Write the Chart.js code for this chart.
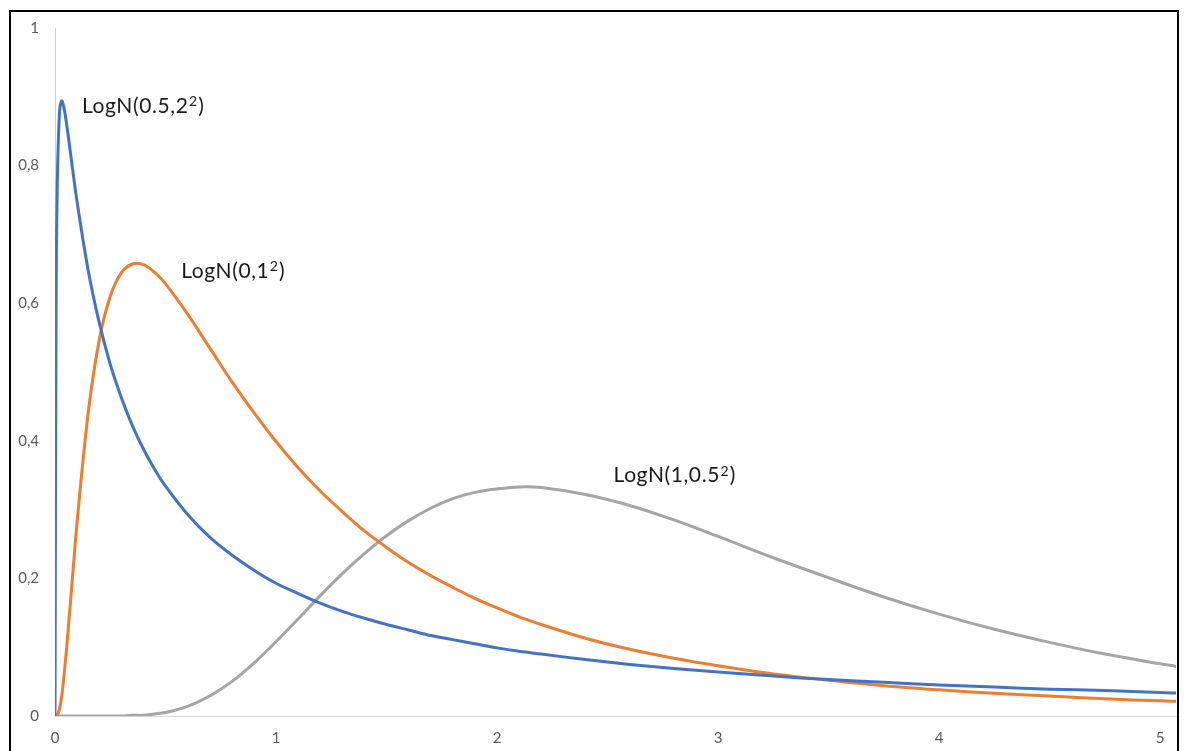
<!DOCTYPE html>
<html>
<head>
<meta charset="utf-8">
<title>Lognormal densities</title>
<script src="https://cdn.jsdelivr.net/npm/chart.js@4.4.1/dist/chart.umd.min.js"></script>
<style>
    html, body { margin: 0; padding: 0; background: #ffffff; }
    canvas { display: block; }
</style>
</head>
<body>
<canvas id="chart_lognormal" width="1184" height="751"></canvas>
<script>
const xValues = [0, 0.005, 0.01, 0.02, 0.03, 0.04, 0.05, 0.06, 0.08, 0.1,
    0.15, 0.2, 0.25, 0.3, 0.35, 0.4, 0.45, 0.5, 0.6, 0.7, 0.8,
    0.9, 1.0, 1.1, 1.2, 1.3, 1.4, 1.5, 1.6, 1.7, 1.8, 1.9, 2.0,
    2.1, 2.2, 2.4, 2.6, 2.8, 3.0, 3.25, 3.5, 3.75, 4.0,
    4.25, 4.5, 4.75, 5.0, 5.1];

// LogN(0.5,2^2)
const blueValues = [0, 0.597, 0.767, 0.875, 0.894, 0.885, 0.866, 0.843, 0.794, 0.747,
    0.648, 0.572, 0.511, 0.463, 0.422, 0.388, 0.359, 0.334, 0.293, 0.260, 0.234,
    0.212, 0.193, 0.178, 0.164, 0.152, 0.142, 0.133, 0.125, 0.117, 0.111, 0.105, 0.099,
    0.094, 0.090, 0.082, 0.075, 0.069, 0.064, 0.058, 0.053, 0.049, 0.045,
    0.042, 0.039, 0.037, 0.034, 0.033];

// LogN(0,1^2)
const orangeValues = [0, 0, 0.001, 0.010, 0.028, 0.056, 0.090, 0.127, 0.205, 0.282,
    0.440, 0.546, 0.610, 0.644, 0.657, 0.656, 0.645, 0.628, 0.584, 0.535, 0.486,
    0.441, 0.399, 0.361, 0.327, 0.297, 0.269, 0.245, 0.223, 0.204, 0.187, 0.171, 0.157,
    0.144, 0.133, 0.113, 0.097, 0.084, 0.073, 0.061, 0.052, 0.044, 0.038,
    0.033, 0.029, 0.025, 0.022, 0.021];

// LogN(1,0.5^2)
const grayValues = [0, 0, 0, 0, 0, 0, 0, 0, 0, 0,
    0, 0, 0, 0, 0.001, 0.001, 0.003, 0.005, 0.014, 0.029, 0.050,
    0.077, 0.108, 0.141, 0.175, 0.207, 0.236, 0.262, 0.284, 0.302, 0.316, 0.325, 0.330,
    0.333, 0.332, 0.322, 0.306, 0.285, 0.261, 0.230, 0.201, 0.173, 0.148,
    0.126, 0.107, 0.090, 0.076, 0.071];

const seriesLabels = ['LogN(0.5,2²)', 'LogN(0,1²)', 'LogN(1,0.5²)'];
// same names split round the superscript so it can be drawn raised
const labelParts = [
    ['LogN(0.5,2', '2', ')'],
    ['LogN(0,1', '2', ')'],
    ['LogN(1,0.5', '2', ')']
];
const xTicks = [0, 1, 2, 3, 4, 5];
const yTicks = [0, 0.2, 0.4, 0.6, 0.8, 1];

// where the curve names sit, in data units (left edge, baseline)
const labelSpots = [
    { x: 0.122, y: 0.877 },
    { x: 0.571, y: 0.637 },
    { x: 2.527, y: 0.340 }
];

const fontFamily = 'Lato, "Noto Sans", sans-serif';

function points(ys) {
    return xValues.map((x, i) => ({ x: x, y: ys[i] }));
}

const curveLabels = {
    id: 'curveLabels',
    afterDatasetsDraw(chart) {
        const c = chart.ctx;
        const xs = chart.scales.x;
        const ys = chart.scales.y;
        c.save();
        c.fillStyle = '#1a1a1a';
        c.textBaseline = 'alphabetic';
        c.textAlign = 'left';
        c.letterSpacing = '0.6px';
        labelParts.forEach((parts, i) => {
            let px = xs.getPixelForValue(labelSpots[i].x);
            const py = ys.getPixelForValue(labelSpots[i].y);
            c.font = '21px ' + fontFamily;
            c.fillText(parts[0], px, py);
            px += c.measureText(parts[0]).width;
            c.font = '14px ' + fontFamily;
            c.fillText(parts[1], px + 0.5, py - 6.5);
            px += c.measureText(parts[1]).width + 1;
            c.font = '21px ' + fontFamily;
            c.fillText(parts[2], px, py);
        });
        c.restore();
    },
    afterDraw(chart) {
        // black frame round the picture
        const c = chart.ctx;
        c.save();
        c.strokeStyle = '#000000';
        c.lineWidth = 2;
        c.strokeRect(10, 11, 1168, 780);
        c.restore();
    }
};

const ctx = document.querySelector('#chart_lognormal').getContext('2d');
const chart = new Chart(ctx, {
    type: 'line',
    data: {
        datasets: [{
            label: seriesLabels[0],
            data: points(blueValues),
            borderColor: '#4472c4'
        }, {
            label: seriesLabels[1],
            data: points(orangeValues),
            borderColor: '#ed7d31'
        }, {
            label: seriesLabels[2],
            data: points(grayValues),
            borderColor: '#a5a5a5'
        }]
    },
    options: {
        responsive: false,
        animation: false,
        devicePixelRatio: 1,
        datasets: {
            line: {
                borderWidth: 3,
                pointRadius: 0,
                fill: false,
                tension: 0.35
            }
        },
        layout: {
            padding: { top: 28, right: 8, left: 0, bottom: 0 }
        },
        scales: {
            x: {
                type: 'linear',
                min: 0,
                max: 5.072,
                afterFit(scale) { scale.height = 35; },
                afterBuildTicks(scale) { scale.ticks = xTicks.map(v => ({ value: v })); },
                grid: { display: false, drawTicks: false },
                border: { display: true, color: '#d9d9d9', width: 1 },
                ticks: {
                    padding: 13,
                    color: '#595959',
                    font: { family: fontFamily, size: 15 },
                    maxRotation: 0,
                    callback: v => String(v)
                }
            },
            y: {
                min: 0,
                max: 1,
                afterFit(scale) { scale.width = 55; },
                afterBuildTicks(scale) { scale.ticks = yTicks.map(v => ({ value: v })); },
                grid: { display: false, drawTicks: false },
                border: { display: true, color: '#cfcfcf', width: 1, dash: [2, 2] },
                ticks: {
                    padding: 16,
                    color: '#595959',
                    font: { family: fontFamily, size: 15 },
                    callback: v => String(Math.round(v * 10) / 10).replace('.', ',')
                }
            }
        },
        plugins: {
            legend: { display: false },
            tooltip: { enabled: false },
            title: { display: false }
        }
    },
    plugins: [curveLabels]
});
</script>
</body>
</html>
